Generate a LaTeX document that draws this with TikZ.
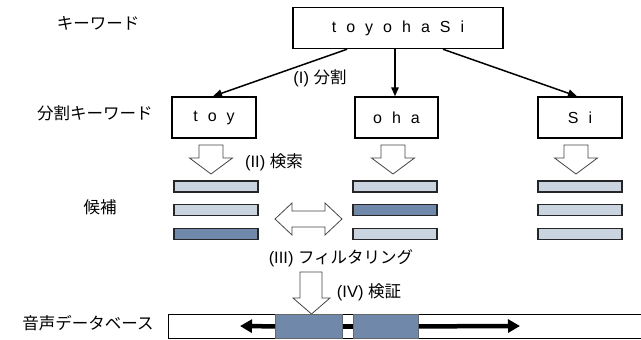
\documentclass[tikz,border=0pt]{standalone}
\usepackage{fontspec}
\setmainfont{Liberation Sans}
\newfontfamily\jp{Noto Sans CJK JP}
\usetikzlibrary{arrows.meta}
\definecolor{barlight}{HTML}{CAD4E1}
\definecolor{bardark}{HTML}{7088A9}
\definecolor{blockline}{HTML}{454545}
\newcommand\lgap{\hskip 10pt}
\begin{document}
\begin{tikzpicture}[x=1pt,y=-1pt,
  lbl/.style={inner sep=0pt,font=\fontsize{16.5}{19}\selectfont},
  kbox/.style={draw=black,line width=1.5pt,minimum height=41pt,inner sep=0pt,font=\fontsize{16}{19}\selectfont},
  conn/.style={line width=1.5pt,-{Triangle[length=9pt,width=7.5pt]}},
  bar/.style={draw=black!85,line width=1.2pt,minimum width=84pt,minimum height=11pt,inner sep=0pt},
  lightbar/.style={bar,fill=barlight},
  darkbar/.style={bar,fill=bardark},
  blockarrow/.style={draw=blockline,line width=0.8pt,fill=white,line join=miter},
  thick arrow/.style={line width=4.5pt,-{Triangle[length=12pt,width=13pt]}},
  dbblock/.style={draw=black!60,line width=0.8pt,fill=bardark}
]
\useasboundingbox (0,0) rectangle (641,340);

% labels at left
\node[lbl] (lkw) at (98,23) {\jp キーワード};
\node[lbl] (lsplit) at (95,113) {\jp 分割キーワード};
\node[lbl] (lcand) at (100,207) {\jp 候補};
\node[lbl] (ldb) at (88,323) {\jp 音声データベース};

% keyword boxes
\node[kbox,minimum width=210pt] (top) at (398,28) {t\lgap o\lgap y\lgap o\lgap h\lgap a\lgap S\lgap i};
\node[kbox,minimum width=84pt] (toy) at (214,117.5) {t\lgap o\lgap y};
\node[kbox,minimum width=83pt] (oha) at (396.5,117.5) {o\lgap h\lgap a};
\node[kbox,minimum width=84pt] (si) at (580,117.5) {S\lgap i};

% split connectors
\draw[conn] ([xshift=-51pt]top.south) -- ([xshift=-1pt]toy.north);
\draw[conn] ([xshift=-3pt]top.south) -- ([xshift=-1.5pt]oha.north);
\draw[conn] ([xshift=45pt]top.south) -- ([xshift=-3pt]si.north);
\node[lbl] (l1) at (320,78) {(I) {\jp 分割}};

% search block arrows
\foreach \cx in {211,393,576}{
  \draw[blockarrow] (\cx-12,145) -- (\cx+12,145) -- (\cx+12,158) -- (\cx+21.5,158)
    -- (\cx,174) -- (\cx-21.5,158) -- (\cx-12,158) -- cycle;
}
\node[lbl] (l2) at (274,162) {(II) {\jp 検索}};

% candidate bars
\node[lightbar] (c11) at (216,186.5) {};
\node[lightbar] (c12) at (216,210) {};
\node[darkbar]  (c13) at (216,234) {};
\node[lightbar] (c21) at (395,186.5) {};
\node[darkbar]  (c22) at (395,210) {};
\node[lightbar] (c23) at (395,234) {};
\node[lightbar] (c31) at (580,186.5) {};
\node[lightbar] (c32) at (580,210) {};
\node[lightbar] (c33) at (580,234) {};

% double block arrow
\draw[blockarrow] (275,219) -- (292,203) -- (292,211) -- (325,211) -- (325,203)
  -- (342,219) -- (325,235) -- (325,227) -- (292,227) -- (292,235) -- cycle;

\node[lbl] (l3) at (341,258) {(III) {\jp フィルタリング}};

% verify block arrow
\draw[blockarrow] (300,272) -- (322,272) -- (322,298) -- (330,298)
  -- (311.5,314) -- (293,298) -- (300,298) -- cycle;
\node[lbl] (l4) at (369,292) {(IV) {\jp 検証}};

% database
\node[draw=black,line width=1pt,fill=white,minimum width=477pt,minimum height=24pt,inner sep=0pt,anchor=north west] (db) at (168,314) {};
\node[dbblock,minimum width=67pt,minimum height=24pt,inner sep=0pt,anchor=north west] (b1) at (275,314) {};
\node[dbblock,minimum width=65pt,minimum height=24pt,inner sep=0pt,anchor=north west] (b2) at (353,314) {};
\coordinate (lt) at (240,326);
\coordinate (rt) at (520,326);
\draw[thick arrow] (b1.west) -- (lt);
\draw[line width=4.5pt] (b1.east) -- (b2.west);
\draw[thick arrow] (b2.east) -- (rt);
\end{tikzpicture}
\end{document}
